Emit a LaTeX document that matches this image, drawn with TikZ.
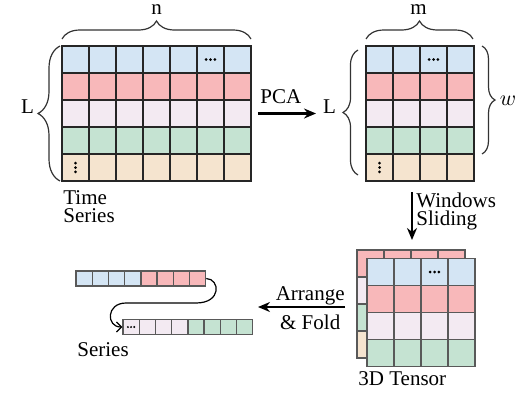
\documentclass[tikz,border=0pt]{standalone}
\usepackage{fontspec}
\setmainfont{Liberation Serif}
\usepackage{xcolor}
\usetikzlibrary{arrows.meta,positioning,calc,decorations.pathreplacing}
\definecolor{cblue}{HTML}{D4E5F4}
\definecolor{cpink}{HTML}{F8B8BA}
\definecolor{clav}{HTML}{F3EAF2}
\definecolor{cgreen}{HTML}{C5E3D2}
\definecolor{cpeach}{HTML}{F5E4CF}
\begin{document}
\begin{tikzpicture}[x=0.5pt,y=-0.5pt,
    font=\fontsize{10.5}{9}\selectfont,
    cell/.style={draw=black!85,line width=0.9pt,inner sep=0,minimum size=13.5pt},
    tcell/.style={draw=black!65,line width=0.7pt,inner sep=0,minimum size=13.5pt},
    bcell/.style={draw=black!65,line width=0.7pt,inner sep=0,minimum width=8.1pt,minimum height=7.6pt},
    bigarrow/.style={-{Stealth[length=6pt,width=5pt]},line width=1.1pt},
    brc/.style={decorate,decoration={brace,amplitude=#1},line width=0.6pt,black!80}]
  \useasboundingbox (0,0) rectangle (530,418);
  % time series
  \foreach \r/\col in {0/cblue,1/cpink,2/clav,3/cgreen,4/cpeach}
    \foreach \c in {0,...,6}
      \node[cell,fill=\col] (ts-\r-\c) at ({75.5+27*\c},{59.5+27*\r}) {};
  % after PCA
  \foreach \r/\col in {0/cblue,1/cpink,2/clav,3/cgreen,4/cpeach}
    \foreach \c in {0,...,3}
      \node[cell,fill=\col] (pc-\r-\c) at ({379.5+27*\c},{59.5+27*\r}) {};
  % 3D tensor
  \foreach \r/\col in {0/cpink,1/clav,2/cgreen,3/cpeach}
    \foreach \c in {0,...,3}
      \node[tcell,fill=\col] (tb-\r-\c) at ({370.5+27*\c},{263.5+27*\r}) {};
  \foreach \r/\col in {0/cblue,1/cpink,2/clav,3/cgreen}
    \foreach \c in {0,...,3}
      \node[tcell,fill=\col] (tf-\r-\c) at ({380.5+27*\c},{272+27*\r}) {};
  % series
  \foreach \c/\col in {0/cblue,1/cblue,2/cblue,3/cblue,4/cpink,5/cpink,6/cpink,7/cpink}
    \node[bcell,fill=\col] (sa-\c) at ({84.1+16.2*\c},278.5) {};
  \foreach \c/\col in {0/clav,1/clav,2/clav,3/clav,4/cgreen,5/cgreen,6/cgreen,7/cgreen}
    \node[bcell,fill=\col] (sb-\c) at ({131.1+16.2*\c},327) {};

  % dots
  \foreach \n in {ts-0-5,pc-0-2,tf-0-2}
    \foreach \d in {-2.2,0,2.2}
      \fill ([xshift=\d pt]\n) circle (0.75pt);
  \foreach \n in {ts-4-0,pc-4-0}
    \foreach \d in {-2.2,0,2.2}
      \fill ([yshift=\d pt]\n) circle (0.75pt);
  \foreach \d in {-1.6,0,1.6}
    \fill ([xshift=\d pt]sb-0) circle (0.55pt);

  % labels
  \node[anchor=base] (L1) at (27.5,113) {L};
  \node[anchor=base] (L2) at (329.5,113) {L};
  \node[anchor=base,inner sep=0] (nlbl) at (156.5,14) {n};
  \node[anchor=base,inner sep=0] (mlbl) at (418.5,14) {m};
  \node[anchor=base] (wlbl) at (508,105) {$w$};
  \node[anchor=north west,align=left,inner sep=0] (tsl) at (63,190) {Time\\Series};
  \node[anchor=north west,align=left,inner sep=0] (wsl) at (416,193) {Windows\\Sliding};
  \node[anchor=base west,inner sep=0] (tens) at (358,385) {3D Tensor};
  \node[anchor=base west,inner sep=0] (ser) at (77,356) {Series};

  % braces
  \draw[brc=11pt] (60,181) -- (60,46);
  \draw[brc=9pt] (62,39) -- (251,39);
  \draw[brc=9pt] (366,39) -- (473,39);
  \draw[brc=7.5pt] (358,175) -- (358,50);
  \draw[brc=6.5pt] (482,46) -- (482,154);

  % arrows
  \coordinate (ws-a) at (412,192);
  \coordinate (ws-b) at (412,240);
  \coordinate (af-a) at (345,307);
  \coordinate (af-b) at (258,307);
  \draw[bigarrow,shorten <=3pt] (ts-2-6.east) -- node[above=1pt,pos=0.45] (pca) {PCA} (ts-2-6.east -| L2.west);
  \draw[bigarrow] (ws-a) -- (ws-b);
  \draw[bigarrow] (af-a) -- node[above,inner sep=0.5pt,pos=0.4] (arr) {Arrange} node[below,pos=0.4] (fold) {\& Fold} (af-b);
  \draw[-{Straight Barb[length=2.5pt]},line width=0.6pt] (sa-7.east) .. controls (220,279) and (222,303) .. (196,303) -- (126,303) .. controls (106,303) and (106,327) .. (sb-0.west);
\end{tikzpicture}
\end{document}
